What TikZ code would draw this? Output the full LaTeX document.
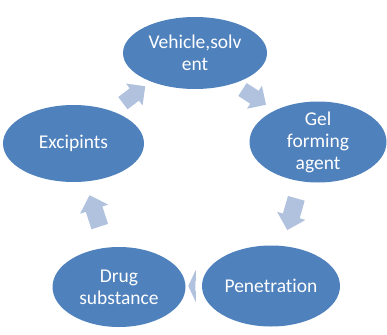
\documentclass[tikz,border=0pt]{standalone}
\usepackage{fontspec}
\setmainfont{Carlito}[Ligatures=NoCommon]
\usetikzlibrary{shapes.geometric,shapes.arrows}
\definecolor{bubbleblue}{HTML}{4F81BD}
\definecolor{arrowblue}{RGB}{177,194,222}
\tikzset{
  bubble/.style={ellipse, fill=bubbleblue, text=white, inner sep=-4pt, align=center,
    font=\fontsize{19.5}{22}\selectfont},
  cyclearrow/.style={single arrow, fill=arrowblue, inner xsep=0pt, inner ysep=8.5pt,
    minimum height=33pt, single arrow head extend=6pt}
}
\begin{document}
\begin{tikzpicture}[x=1pt, y=-1pt]
    \useasboundingbox (0,0) rectangle (387,334);

    % arrows between the steps
    \node[cyclearrow, rotate=37, minimum height=28pt, inner ysep=7.5pt] (a1) at (131,97) {};
    \node[cyclearrow, rotate=-33, minimum height=28pt, inner ysep=7.5pt] (a2) at (251,95) {};
    \node[cyclearrow, rotate=-106] (a3) at (293,210) {};
    \node[cyclearrow, rotate=180, minimum height=7pt, inner ysep=5pt,
      single arrow head extend=11pt, single arrow tip angle=130] (a4) at (193,286) {};
    \node[cyclearrow, rotate=108] (a5) at (96,215) {};

    % steps of the cycle
    \node[bubble, minimum width=144pt, minimum height=72pt] (veh) at (195,53) {Vehicle,solv\\ent};
    \node[bubble, minimum width=137pt, minimum height=81pt] (gel) at (318,142) {Gel\\forming\\agent};
    \node[bubble, minimum width=138pt, minimum height=81pt] (pen) at (271,286) {Penetration};
    \node[bubble, minimum width=133pt, minimum height=80pt] (drug) at (119,287) {Drug\\substance};
    \node[bubble, minimum width=141pt, minimum height=77pt] (exc) at (73.5,143.5) {Excipints};
\end{tikzpicture}
\end{document}
